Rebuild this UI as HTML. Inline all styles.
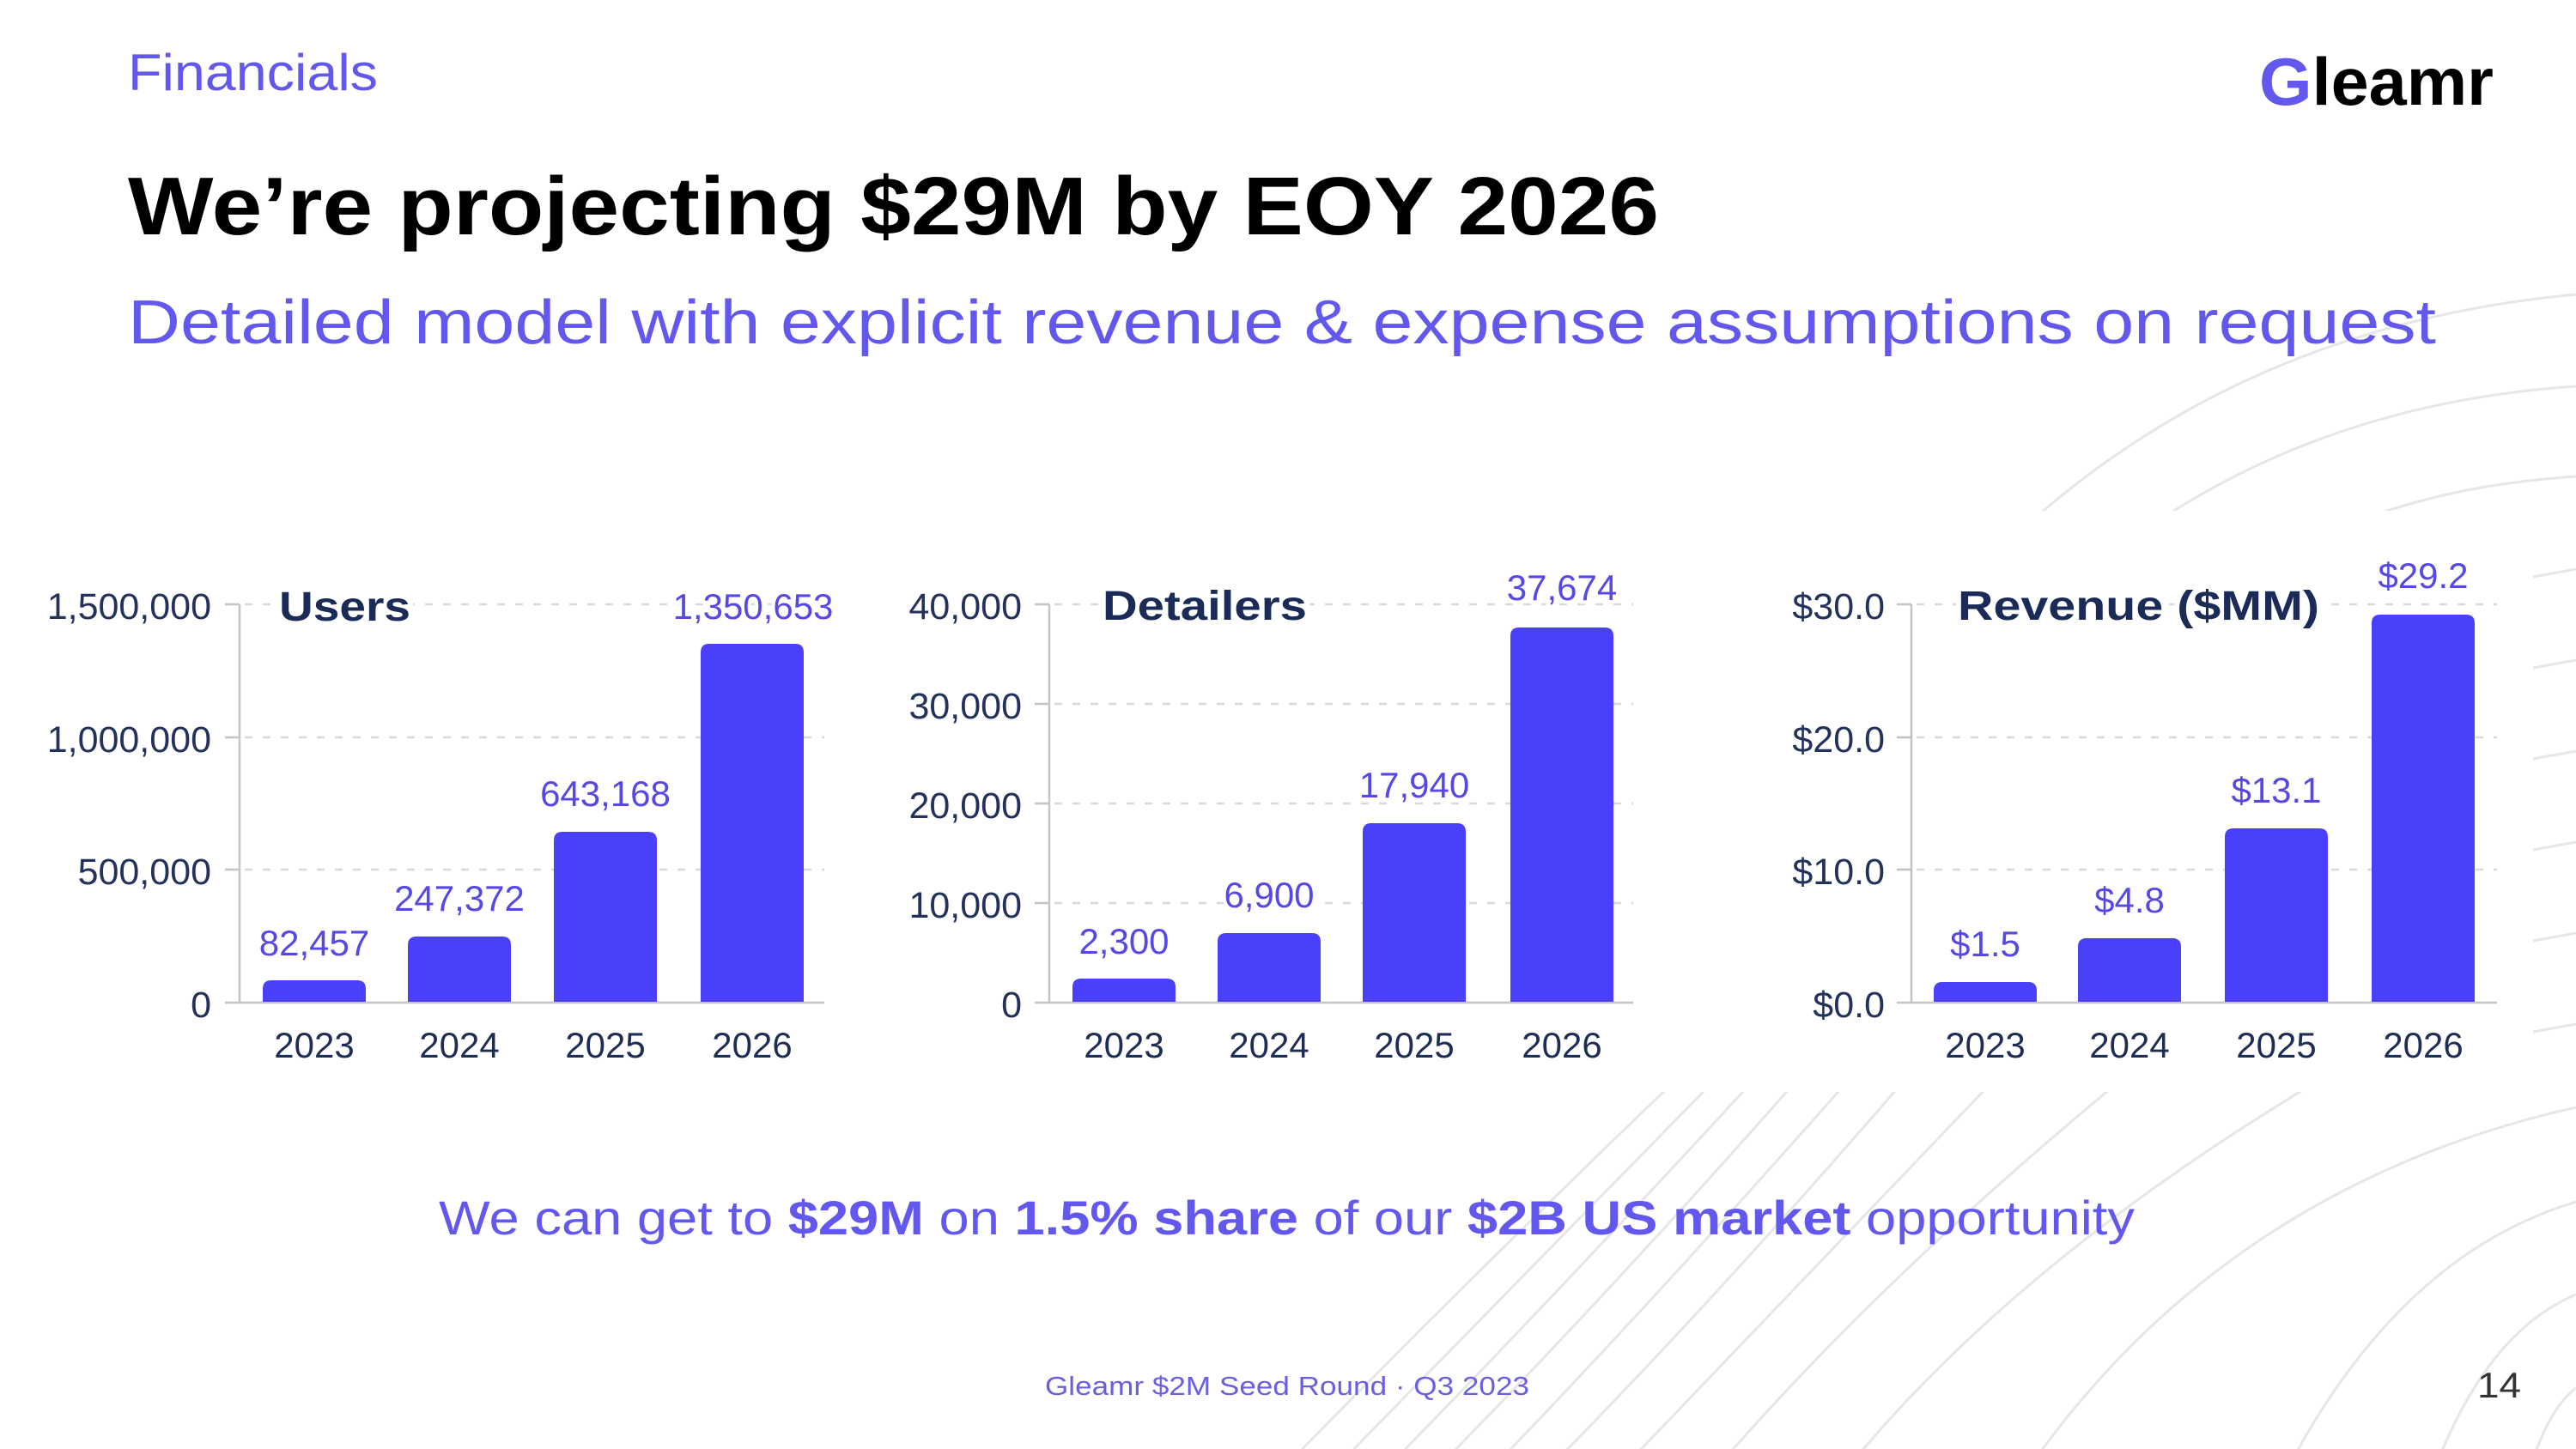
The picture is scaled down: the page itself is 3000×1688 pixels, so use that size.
<!DOCTYPE html>
<html><head><meta charset="utf-8"><style>
html,body{margin:0;padding:0;background:#fff;}
svg{display:block;}
text{font-family:"Liberation Sans",Arial,sans-serif;}
</style></head><body>
<svg width="3000" height="1688" viewBox="0 0 3000 1688" xmlns="http://www.w3.org/2000/svg">
<rect width="3000" height="1688" fill="#fff"/>
<defs>
<clipPath id="ctop"><rect x="0" y="0" width="3000" height="595"/></clipPath>
<clipPath id="cbot"><rect x="0" y="1272" width="3000" height="420"/></clipPath>
</defs>
<g fill="none" stroke="#e6e6e6" stroke-width="3">
<g clip-path="url(#ctop)">
<path d="M2330,640 Q2600,380 3000,343"/>
<path d="M2480,630 Q2700,470 3000,450"/>
<path d="M2740,610 Q2850,565 3000,555"/>
</g>
<path d="M2950,672 L3000,663"/>
<path d="M2950,778 L3000,769"/>
<path d="M2950,884 L3000,875"/>
<path d="M2950,990 L3000,981"/>
<path d="M2950,1096 L3000,1087"/>
<path d="M2950,1202 L3000,1193"/>
<g clip-path="url(#cbot)">
<path d="M1960,1250 Q1700,1500 1505,1700"/>
<path d="M2005,1250 Q1760,1500 1565,1700"/>
<path d="M2050,1250 Q1820,1500 1625,1700"/>
<path d="M2100,1250 Q1880,1500 1684,1700"/>
<path d="M2160,1250 Q1940,1500 1748,1700"/>
<path d="M2225,1250 Q2010,1500 1814,1700"/>
<path d="M2330,1250 Q2090,1500 1900,1700"/>
<path d="M2480,1250 Q2200,1480 2008,1700"/>
<path d="M2715,1250 Q2360,1460 2160,1700"/>
<path d="M2370,1700 Q2600,1380 3000,1290"/>
<path d="M2670,1700 Q2800,1460 3000,1400"/>
<path d="M2840,1700 Q2900,1550 3000,1508"/>
<path d="M2950,1700 Q2970,1640 3000,1617"/>
</g>
</g>

<!-- Header -->
<text x="149" y="105" font-size="60" fill="#6358ee" textLength="291" lengthAdjust="spacingAndGlyphs">Financials</text>
<text x="2631" y="122" font-size="78" font-weight="bold" textLength="273" lengthAdjust="spacingAndGlyphs"><tspan fill="#6358ee">G</tspan><tspan fill="#000">leamr</tspan></text>
<text x="149" y="273" font-size="96" font-weight="bold" fill="#000" textLength="1783" lengthAdjust="spacingAndGlyphs">We’re projecting $29M by EOY 2026</text>
<text x="149" y="400" font-size="72" fill="#6358ee" textLength="2688" lengthAdjust="spacingAndGlyphs">Detailed model with explicit revenue &amp; expense assumptions on request</text>

<!-- Chart 1: Users -->
<g>
<g stroke="#d9d9d9" stroke-width="2.5" stroke-dasharray="9 12">
<line x1="285" y1="704" x2="960" y2="704"/>
<line x1="285" y1="859" x2="960" y2="859"/>
<line x1="285" y1="1013" x2="960" y2="1013"/>
</g>
<g stroke="#c4c4c4" stroke-width="2.5">
<line x1="279" y1="704" x2="279" y2="1168"/>
<line x1="262" y1="704" x2="279" y2="704"/>
<line x1="262" y1="859" x2="279" y2="859"/>
<line x1="262" y1="1013" x2="279" y2="1013"/>
<line x1="262" y1="1168" x2="960" y2="1168"/>
</g>
<g font-size="43" fill="#22325a" text-anchor="end">
<text x="246" y="721">1,500,000</text>
<text x="246" y="876">1,000,000</text>
<text x="246" y="1030">500,000</text>
<text x="246" y="1185">0</text>
</g>
<text x="325" y="723" font-size="48" font-weight="bold" fill="#1a2b57" textLength="153" lengthAdjust="spacingAndGlyphs" stroke="#fff" stroke-width="10" paint-order="stroke">Users</text>
<g fill="#4a3ffa">
<path d="M306,1167 V1152 Q306,1142 316,1142 H416 Q426,1142 426,1152 V1167 Z"/>
<path d="M475,1167 V1101 Q475,1091 485,1091 H585 Q595,1091 595,1101 V1167 Z"/>
<path d="M645,1167 V979 Q645,969 655,969 H755 Q765,969 765,979 V1167 Z"/>
<path d="M816,1167 V760 Q816,750 826,750 H926 Q936,750 936,760 V1167 Z"/>
</g>
<g font-size="42" fill="#5548e6" text-anchor="middle" stroke="#fff" stroke-width="8" paint-order="stroke">
<text x="366" y="1113">82,457</text>
<text x="535" y="1061">247,372</text>
<text x="705" y="939">643,168</text>
<text x="877" y="721">1,350,653</text>
</g>
<g font-size="42" fill="#1e2d55" text-anchor="middle">
<text x="366" y="1232">2023</text>
<text x="535" y="1232">2024</text>
<text x="705" y="1232">2025</text>
<text x="876" y="1232">2026</text>
</g>
</g>

<!-- Chart 2: Detailers -->
<g>
<g stroke="#d9d9d9" stroke-width="2.5" stroke-dasharray="9 12">
<line x1="1228" y1="704" x2="1902" y2="704"/>
<line x1="1228" y1="820" x2="1902" y2="820"/>
<line x1="1228" y1="936" x2="1902" y2="936"/>
<line x1="1228" y1="1052" x2="1902" y2="1052"/>
</g>
<g stroke="#c4c4c4" stroke-width="2.5">
<line x1="1222" y1="704" x2="1222" y2="1168"/>
<line x1="1205" y1="704" x2="1222" y2="704"/>
<line x1="1205" y1="820" x2="1222" y2="820"/>
<line x1="1205" y1="936" x2="1222" y2="936"/>
<line x1="1205" y1="1052" x2="1222" y2="1052"/>
<line x1="1205" y1="1168" x2="1902" y2="1168"/>
</g>
<g font-size="43" fill="#22325a" text-anchor="end">
<text x="1190" y="721">40,000</text>
<text x="1190" y="837">30,000</text>
<text x="1190" y="953">20,000</text>
<text x="1190" y="1069">10,000</text>
<text x="1190" y="1185">0</text>
</g>
<text x="1284" y="722" font-size="48" font-weight="bold" fill="#1a2b57" textLength="238" lengthAdjust="spacingAndGlyphs" stroke="#fff" stroke-width="10" paint-order="stroke">Detailers</text>
<g fill="#4a3ffa">
<path d="M1249,1167 V1150 Q1249,1140 1259,1140 H1359 Q1369,1140 1369,1150 V1167 Z"/>
<path d="M1418,1167 V1097 Q1418,1087 1428,1087 H1528 Q1538,1087 1538,1097 V1167 Z"/>
<path d="M1587,1167 V969 Q1587,959 1597,959 H1697 Q1707,959 1707,969 V1167 Z"/>
<path d="M1759,1167 V741 Q1759,731 1769,731 H1869 Q1879,731 1879,741 V1167 Z"/>
</g>
<g font-size="42" fill="#5548e6" text-anchor="middle" stroke="#fff" stroke-width="8" paint-order="stroke">
<text x="1309" y="1111">2,300</text>
<text x="1478" y="1057">6,900</text>
<text x="1647" y="929">17,940</text>
<text x="1819" y="699">37,674</text>
</g>
<g font-size="42" fill="#1e2d55" text-anchor="middle">
<text x="1309" y="1232">2023</text>
<text x="1478" y="1232">2024</text>
<text x="1647" y="1232">2025</text>
<text x="1819" y="1232">2026</text>
</g>
</g>

<!-- Chart 3: Revenue -->
<g>
<g stroke="#d9d9d9" stroke-width="2.5" stroke-dasharray="9 12">
<line x1="2232" y1="704" x2="2908" y2="704"/>
<line x1="2232" y1="859" x2="2908" y2="859"/>
<line x1="2232" y1="1013" x2="2908" y2="1013"/>
</g>
<g stroke="#c4c4c4" stroke-width="2.5">
<line x1="2226" y1="704" x2="2226" y2="1168"/>
<line x1="2209" y1="704" x2="2226" y2="704"/>
<line x1="2209" y1="859" x2="2226" y2="859"/>
<line x1="2209" y1="1013" x2="2226" y2="1013"/>
<line x1="2209" y1="1168" x2="2908" y2="1168"/>
</g>
<g font-size="43" fill="#22325a" text-anchor="end">
<text x="2195" y="721">$30.0</text>
<text x="2195" y="876">$20.0</text>
<text x="2195" y="1030">$10.0</text>
<text x="2195" y="1185">$0.0</text>
</g>
<text x="2280" y="722" font-size="48" font-weight="bold" fill="#1a2b57" textLength="421" lengthAdjust="spacingAndGlyphs" stroke="#fff" stroke-width="10" paint-order="stroke">Revenue ($MM)</text>
<g fill="#4a3ffa">
<path d="M2252,1167 V1154 Q2252,1144 2262,1144 H2362 Q2372,1144 2372,1154 V1167 Z"/>
<path d="M2420,1167 V1103 Q2420,1093 2430,1093 H2530 Q2540,1093 2540,1103 V1167 Z"/>
<path d="M2591,1167 V975 Q2591,965 2601,965 H2701 Q2711,965 2711,975 V1167 Z"/>
<path d="M2762,1167 V726 Q2762,716 2772,716 H2872 Q2882,716 2882,726 V1167 Z"/>
</g>
<g font-size="42" fill="#5548e6" text-anchor="middle" stroke="#fff" stroke-width="8" paint-order="stroke">
<text x="2312" y="1114">$1.5</text>
<text x="2480" y="1063">$4.8</text>
<text x="2651" y="935">$13.1</text>
<text x="2822" y="685">$29.2</text>
</g>
<g font-size="42" fill="#1e2d55" text-anchor="middle">
<text x="2312" y="1232">2023</text>
<text x="2480" y="1232">2024</text>
<text x="2651" y="1232">2025</text>
<text x="2822" y="1232">2026</text>
</g>
</g>

<!-- Bottom statement -->
<text x="511" y="1438" font-size="56" fill="#6358ee" textLength="1975" lengthAdjust="spacingAndGlyphs">We can get to <tspan font-weight="bold">$29M</tspan> on <tspan font-weight="bold">1.5% share</tspan> of our <tspan font-weight="bold">$2B US market</tspan> opportunity</text>

<!-- Footer -->
<text x="1217" y="1625" font-size="31" fill="#6a5fe3" textLength="564" lengthAdjust="spacingAndGlyphs">Gleamr $2M Seed Round · Q3 2023</text>
<text x="2885" y="1628" font-size="42" fill="#333" textLength="51" lengthAdjust="spacingAndGlyphs">14</text>
</svg>
</body></html>
